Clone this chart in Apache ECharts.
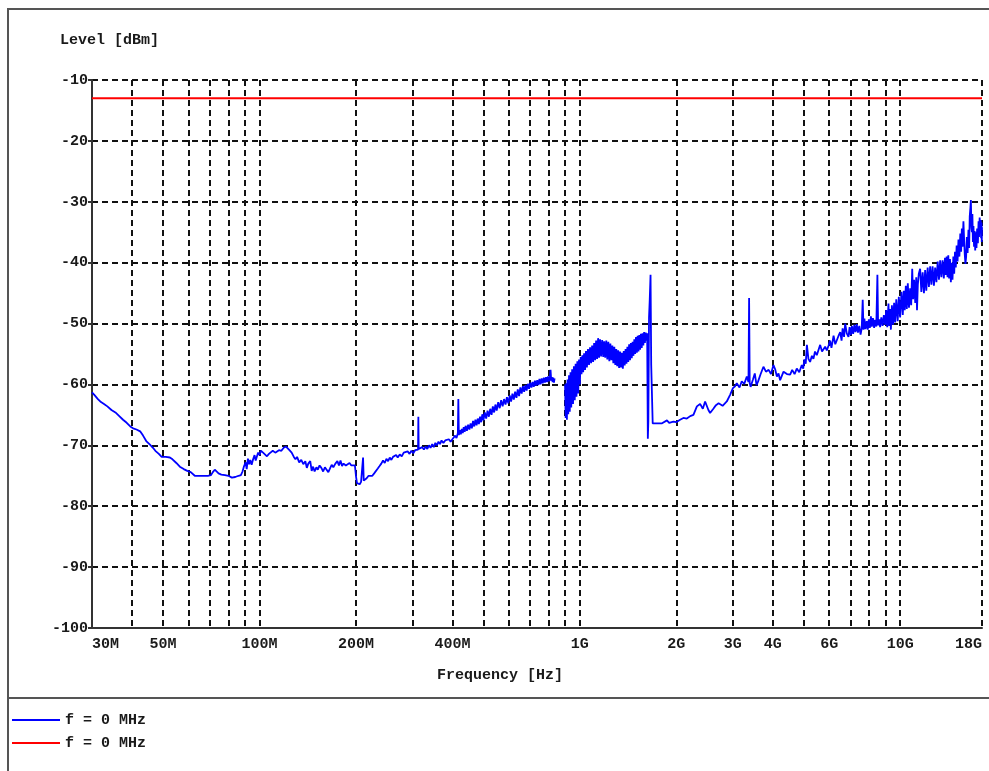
<!DOCTYPE html>
<html><head><meta charset="utf-8">
<script src="https://cdn.jsdelivr.net/npm/echarts@6/dist/echarts.min.js"></script>
<style>html,body{margin:0;padding:0;background:#fff}#c{width:989px;height:771px}</style>
</head><body><div id="c"></div>
<script>
// ---- data ----
const yMin = -100, yMax = -10, yStep = 10;
const xMinMHz = 30, xMaxMHz = 18000;
const xTickFreqMHz = [30, 50, 100, 200, 400, 1000, 2000, 3000, 4000, 6000, 10000, 18000];
const xTickLabels = ['30M', '50M', '100M', '200M', '400M', '1G', '2G', '3G', '4G', '6G', '10G', '18G'];
const xGridFreqMHz = [40, 50, 60, 70, 80, 90, 100, 200, 300, 400, 500, 600, 700, 800, 900,
  1000, 2000, 3000, 4000, 5000, 6000, 7000, 8000, 9000, 10000, 18000];

// trace readings as [frequency MHz, level dBm]
const trace30to100 = [
  [30, -61.3], [30.6, -61.8], [31.3, -62.4], [32, -62.9], [32.7, -63.2], [33.5, -63.6], [34.5, -64.2], [35.5, -64.6],
  [36.5, -65.2], [37.5, -65.8], [38.5, -66.3], [39.5, -66.9], [40.3, -67.2], [41.3, -67.4], [42.4, -67.7], [43.3, -68.4],
  [44.3, -69.3], [45.5, -69.9], [46.5, -70.4], [47.3, -70.9], [48.5, -71.4], [49.5, -71.9], [51, -71.9], [52.5, -72.0],
  [53.5, -72.3], [55, -72.9], [56.4, -73.5], [58, -73.9], [59.5, -74.2], [61, -74.4], [62.8, -75.0], [65, -75.0],
  [67, -75.0], [69, -75.0], [70.5, -74.9], [71.5, -74.4], [72.5, -74.0], [73.5, -74.2], [74.5, -74.6], [76, -74.8],
  [78, -74.9], [80, -75.0], [82, -75.3], [84, -75.2], [86, -75.0], [87.5, -74.9], [88.5, -74.3], [89.5, -73.4],
  [90.5, -72.8], [91.2, -73.9], [92, -72.2], [92.8, -73.1], [93.6, -72.4], [94.5, -73.2], [95.5, -72.3], [96.5, -71.6],
  [97.3, -72.5], [98.2, -71.8], [99, -71.2], [100, -71.6]
];
const trace100to420 = [
  [101, -70.9], [102.6, -71.2], [104, -71.0], [105.5, -71.8], [107, -71.4], [108.5, -71.3], [110, -70.9], [112, -71.2],
  [113.5, -71.0], [115, -70.8], [117, -70.9], [119, -70.4], [121, -70.2], [122.5, -70.3], [124, -70.8], [126, -71.2],
  [128, -71.9], [129.5, -72.3], [131, -71.9], [133, -72.8], [135, -72.4], [137, -73.1], [139, -72.6], [140.5, -73.7],
  [142, -73.0], [144, -72.6], [145.5, -74.2], [147, -73.5], [148.6, -74.3], [150.5, -73.6], [152, -74.0], [154, -73.3],
  [156, -73.7], [158, -74.3], [160, -73.6], [162, -74.0], [164, -74.4], [166, -73.8], [168, -73.2], [170, -73.6],
  [172.5, -73.0], [175, -72.6], [177, -73.3], [179, -72.5], [181, -73.4], [183, -73.0], [186, -73.3], [188.5, -73.1],
  [191, -72.9], [193.5, -73.3], [196, -73.2], [198.5, -73.3], [200, -75.0], [201.5, -76.2], [203.5, -76.5], [205.5, -76.4],
  [207.5, -76.0], [209.5, -75.8], [210.5, -72.0], [211.5, -75.8], [213.5, -75.7], [216, -75.4], [219, -75.0], [222, -75.3],
  [225, -75.0], [228, -74.6], [231, -74.3], [234, -73.8], [237, -73.4], [240, -73.0], [243, -72.5], [246, -72.9],
  [249, -72.2], [252, -72.6], [255, -72.0], [258, -72.4], [261, -71.9], [264, -72.2], [267, -71.6], [270, -72.0],
  [274, -71.5], [278, -71.8], [282, -71.2], [286, -71.5], [290, -71.0], [294, -71.4], [298, -70.9], [302, -71.3],
  [306, -70.8], [310, -71.1], [312.5, -70.7], [313.2, -65.3], [314, -70.6], [318, -70.8], [322, -70.3], [326, -70.7],
  [330, -70.2], [334, -70.6], [338, -70.0], [342, -70.4], [346, -69.8], [350, -70.3], [354, -69.6], [358, -70.0],
  [362, -69.4], [366, -69.8], [370, -69.2], [375, -69.6], [380, -69.2], [385, -69.5], [390, -69.0], [395, -69.4],
  [400, -69.0], [404, -69.2], [408, -68.4], [412, -68.8], [416, -68.0], [417.5, -62.4], [419, -68.3]
];
const trace420to835 = [
  [422, -67.5], [425, -68.2], [428, -67.3], [431, -68.0], [434, -67.0], [437, -67.8], [440, -66.8], [444, -67.6],
  [448, -66.6], [452, -67.4], [456, -66.4], [460, -67.2], [464, -66.0], [468, -66.9], [472, -65.8], [476, -66.7],
  [480, -65.6], [484, -66.5], [488, -65.3], [492, -66.2], [496, -64.9], [500, -65.9], [505, -64.6], [510, -65.6],
  [515, -64.3], [520, -65.3], [525, -64.0], [530, -65.0], [535, -63.6], [540, -64.6], [545, -63.3], [550, -64.3],
  [556, -62.9], [562, -63.9], [568, -62.6], [574, -63.6], [580, -62.4], [586, -63.3], [592, -62.1], [598, -63.1],
  [604, -61.8], [610, -62.8], [616, -61.5], [622, -62.5], [628, -61.2], [634, -62.2], [640, -60.8], [646, -61.9],
  [652, -60.5], [658, -61.5], [664, -60.3], [670, -61.2], [676, -60.1], [682, -61.0], [688, -59.9], [694, -60.7],
  [700, -59.7], [706, -60.5], [712, -59.6], [718, -60.4], [724, -59.4], [730, -60.2], [736, -59.3], [742, -60.1],
  [748, -59.1], [754, -60.0], [760, -59.0], [766, -59.8], [772, -58.9], [778, -59.7], [784, -58.8], [790, -59.6],
  [796, -58.7], [802, -59.5], [806, -58.9], [810, -57.6], [814, -59.4], [818, -58.8], [822, -59.6], [826, -58.9],
  [830, -59.7], [834, -59.0]
];
const traceGap = [[865, null]];
const trace900to1720 = [
  [899, -60.0], [903, -65.5], [907, -59.8], [911, -65.8], [915, -59.2], [920, -64.9], [925, -58.5], [930, -64.5],
  [935, -58.0], [940, -63.8], [946, -57.5], [952, -63.2], [958, -57.0], [964, -62.6], [970, -56.6], [976, -62.0],
  [982, -56.2], [988, -61.5], [994, -55.9], [1000, -60.0], [1006, -55.5], [1012, -58.3], [1018, -55.2], [1024, -58.0],
  [1031, -54.9], [1038, -57.6], [1045, -54.5], [1052, -57.2], [1060, -54.2], [1068, -56.8], [1076, -53.9], [1084, -56.5],
  [1092, -53.6], [1100, -56.3], [1108, -53.2], [1116, -56.0], [1124, -52.8], [1132, -55.8], [1140, -52.4], [1148, -55.6],
  [1156, -52.6], [1165, -55.4], [1174, -52.7], [1183, -55.5], [1191, -52.9], [1200, -55.6], [1209, -52.8], [1218, -55.9],
  [1227, -53.0], [1236, -56.2], [1245, -53.3], [1254, -56.0], [1263, -53.6], [1272, -56.5], [1281, -53.8], [1290, -56.8],
  [1299, -54.2], [1308, -57.0], [1317, -54.4], [1326, -57.3], [1335, -54.6], [1344, -57.2], [1353, -54.8], [1362, -57.4],
  [1371, -54.5], [1380, -56.9], [1389, -54.2], [1398, -56.6], [1407, -53.8], [1416, -56.3], [1425, -53.4], [1434, -56.0],
  [1443, -53.2], [1452, -55.7], [1461, -53.0], [1470, -55.3], [1479, -52.6], [1488, -55.0], [1497, -52.2], [1506, -54.8],
  [1515, -52.0], [1524, -54.6], [1533, -51.9], [1542, -54.3], [1551, -51.7], [1560, -54.0], [1569, -51.6], [1578, -53.6],
  [1587, -51.4], [1596, -53.2], [1605, -51.5], [1614, -52.8], [1622, -51.6], [1630, -68.9], [1636, -66.0], [1644, -49.0],
  [1652, -46.2], [1662, -42.0], [1670, -56.8], [1680, -57.0], [1688, -66.4], [1720, -66.4]
];
const trace1720to4500 = [
  [1800, -66.4], [1870, -65.9], [1900, -66.3], [1959, -66.1], [2000, -66.2], [2055, -65.8], [2105, -65.5], [2157, -65.6],
  [2210, -65.2], [2262, -65.0], [2319, -63.6], [2373, -63.2], [2420, -64.0], [2460, -62.8], [2519, -64.2], [2550, -64.7],
  [2610, -64.0], [2660, -63.4], [2710, -63.1], [2790, -63.5], [2875, -62.8], [2944, -61.7], [3005, -60.6], [3050, -60.3],
  [3089, -59.8], [3150, -60.5], [3201, -59.5], [3260, -59.9], [3320, -58.7], [3360, -59.6], [3375, -45.8], [3390, -59.8],
  [3412, -60.4], [3470, -59.2], [3516, -58.2], [3560, -60.1], [3601, -59.5], [3660, -58.4], [3741, -57.1], [3810, -57.9],
  [3884, -57.6], [3950, -58.3], [4021, -56.8], [4070, -57.5], [4121, -58.7], [4170, -58.2], [4218, -59.3], [4270, -58.6],
  [4323, -57.9], [4430, -58.3]
];
const trace4500to9000 = [
  [4533, -58.4], [4600, -57.6], [4680, -58.3], [4755, -57.4], [4840, -58.0], [4929, -56.8], [4980, -57.4], [5020, -55.9],
  [5070, -56.6], [5113, -53.5], [5170, -55.8], [5232, -56.3], [5300, -55.3], [5359, -55.8], [5420, -54.6], [5490, -55.2],
  [5560, -54.3], [5625, -53.5], [5700, -54.6], [5765, -54.9], [5830, -53.8], [5900, -54.4], [5976, -53.6], [6040, -52.8],
  [6100, -54.0], [6194, -52.0], [6270, -53.4], [6339, -53.6], [6420, -52.0], [6496, -51.4], [6560, -52.8], [6610, -50.8],
  [6680, -52.2], [6733, -50.0], [6810, -51.6], [6895, -52.2], [6950, -50.6], [7010, -51.9], [7065, -50.4], [7130, -51.7],
  [7190, -50.2], [7250, -51.4], [7315, -50.1], [7380, -51.5], [7450, -50.4], [7520, -51.8], [7582, -50.8], [7637, -46.1],
  [7680, -51.0], [7730, -49.2], [7790, -50.9], [7860, -49.6], [7920, -51.0], [7980, -49.3], [8040, -50.7], [8100, -48.8],
  [8155, -50.5], [8220, -49.1], [8290, -50.7], [8351, -49.4], [8420, -50.5], [8487, -42.0], [8530, -50.3], [8600, -49.3],
  [8655, -50.6], [8730, -49.0], [8810, -50.4], [8890, -48.6]
];
const trace9000to18000 = [
  [8973, -50.2], [9040, -47.8], [9110, -50.6], [9190, -46.7], [9240, -50.4], [9300, -47.6], [9350, -51.0], [9420, -47.0],
  [9500, -50.2], [9570, -46.6], [9644, -49.8], [9720, -46.0], [9820, -49.6], [9900, -45.6], [9993, -49.0], [10090, -44.8],
  [10186, -48.6], [10260, -44.6], [10330, -47.8], [10410, -43.8], [10485, -47.6], [10560, -43.4], [10650, -47.4], [10740, -44.2],
  [10820, -47.0], [10900, -41.0], [10970, -46.0], [11050, -42.8], [11140, -46.6], [11220, -42.4], [11282, -47.8], [11350, -43.6],
  [11430, -41.8], [11538, -41.0], [11640, -44.8], [11750, -41.6], [11860, -45.0], [11962, -41.2], [12060, -44.6], [12180, -40.8],
  [12290, -44.0], [12400, -40.6], [12510, -43.6], [12620, -40.6], [12740, -43.8], [12853, -40.8], [12970, -43.2], [13090, -39.8],
  [13210, -42.8], [13323, -39.6], [13440, -42.4], [13560, -39.6], [13680, -42.6], [13797, -39.2], [13880, -42.0], [13960, -39.0],
  [14050, -42.4], [14127, -38.8], [14210, -42.6], [14300, -39.4], [14390, -43.2], [14476, -40.0], [14560, -42.8], [14650, -39.0],
  [14740, -41.8], [14823, -38.2], [14910, -40.8], [15000, -37.2], [15100, -39.8], [15198, -36.2], [15300, -39.0], [15400, -35.2],
  [15490, -38.2], [15575, -34.4], [15650, -37.4], [15750, -33.2], [15834, -36.4], [15900, -38.6], [15980, -40.2], [16062, -39.0],
  [16140, -35.8], [16230, -38.4], [16330, -34.6], [16410, -37.6], [16480, -32.4], [16560, -31.0], [16617, -29.7], [16680, -34.2],
  [16740, -35.0], [16800, -32.0], [16859, -36.6], [16930, -34.0], [17000, -37.4], [17070, -34.8], [17141, -38.0], [17220, -35.0],
  [17300, -37.6], [17380, -34.4], [17476, -36.8], [17560, -33.2], [17620, -35.8], [17700, -32.6], [17766, -35.0], [17830, -33.0],
  [17880, -36.0], [17940, -33.4], [17969, -36.6], [18000, -34.2]
];
const limitFreqMHz = [30, 18000];
const limitLevel = [-13, -13];

// ---- chart ----
const lg = v => Math.log10(v);
const FONT = 'Liberation Mono';
const txt = { fontFamily: FONT, fontWeight: 'bold', fontSize: 15, color: '#1a1a1a' };
const traceAll = [].concat(trace30to100, trace100to420, trace420to835, traceGap,
  trace900to1720, trace1720to4500, trace4500to9000, trace9000to18000);
const traceData = traceAll.map(p => [lg(p[0]), p[1] === null ? '-' : p[1]]);
const limitData = limitFreqMHz.map((f, i) => [lg(f), limitLevel[i]]);

const chart = echarts.init(document.getElementById('c'), null, { renderer: 'canvas' });
chart.setOption({
  animation: false,
  backgroundColor: '#fff',
  grid: { left: 92, right: 7, top: 80, bottom: 143, containLabel: false },
  xAxis: {
    type: 'value',
    min: lg(xMinMHz), max: lg(xMaxMHz),
    name: 'Frequency [Hz]', nameLocation: 'middle', nameGap: 40,
    nameTextStyle: Object.assign({}, txt, { padding: [0, 74, 0, 0] }),
    axisLine: { show: true, onZero: false, lineStyle: { color: '#333', width: 2 } },
    axisTick: { show: false, customValues: xGridFreqMHz.map(lg) },
    axisLabel: Object.assign({}, txt, {
      customValues: xTickFreqMHz.map(lg), margin: 9,
      alignMinLabel: 'left', alignMaxLabel: 'right',
      formatter: v => {
        const i = xTickFreqMHz.findIndex(f => Math.abs(lg(f) - v) < 1e-6);
        return i >= 0 ? xTickLabels[i] : '';
      }
    }),
    splitLine: { show: true, lineStyle: { color: '#111', width: 2, type: [6, 4] } }
  },
  yAxis: {
    type: 'value', min: yMin, max: yMax, interval: yStep,
    name: 'Level [dBm]', nameLocation: 'end', nameGap: 32,
    nameTextStyle: Object.assign({}, txt, { align: 'left', padding: [0, 0, 0, -32] }),
    axisLine: { show: true, lineStyle: { color: '#333', width: 2 } },
    axisTick: { show: true, length: 4, lineStyle: { color: '#333', width: 2 } },
    axisLabel: Object.assign({}, txt, { margin: 4 }),
    splitLine: { show: true, lineStyle: { color: '#111', width: 2, type: [6, 4] } }
  },
  legend: {
    orient: 'vertical', left: 12, top: 712, padding: 0, itemWidth: 48, itemHeight: 2, itemGap: 7,
    icon: 'rect',
    textStyle: Object.assign({}, txt, { lineHeight: 16 }),
    formatter: name => name.replace(/ \(.*\)$/, ''),
    data: ['f = 0 MHz (trace)', 'f = 0 MHz (limit)']
  },
  series: [
    {
      name: 'f = 0 MHz (trace)', type: 'line', data: traceData, symbol: 'none', showSymbol: false,
      connectNulls: false, lineStyle: { color: '#0000ff', width: 1.8 }, itemStyle: { color: '#0000ff' }, z: 3
    },
    {
      name: 'f = 0 MHz (limit)', type: 'line', data: limitData, symbol: 'none', showSymbol: false,
      lineStyle: { color: '#ff0000', width: 1.8 }, itemStyle: { color: '#ff0000' }, z: 4
    }
  ],
  graphic: [
    { type: 'rect', silent: true, z: 0, shape: { x: 8, y: 9, width: 1000, height: 800 },
      style: { fill: 'transparent', stroke: '#555', lineWidth: 2 } },
    { type: 'line', silent: true, z: 0, shape: { x1: 8, y1: 698, x2: 989, y2: 698 },
      style: { stroke: '#555', lineWidth: 2 } }
  ]
});
</script>
</body></html>
